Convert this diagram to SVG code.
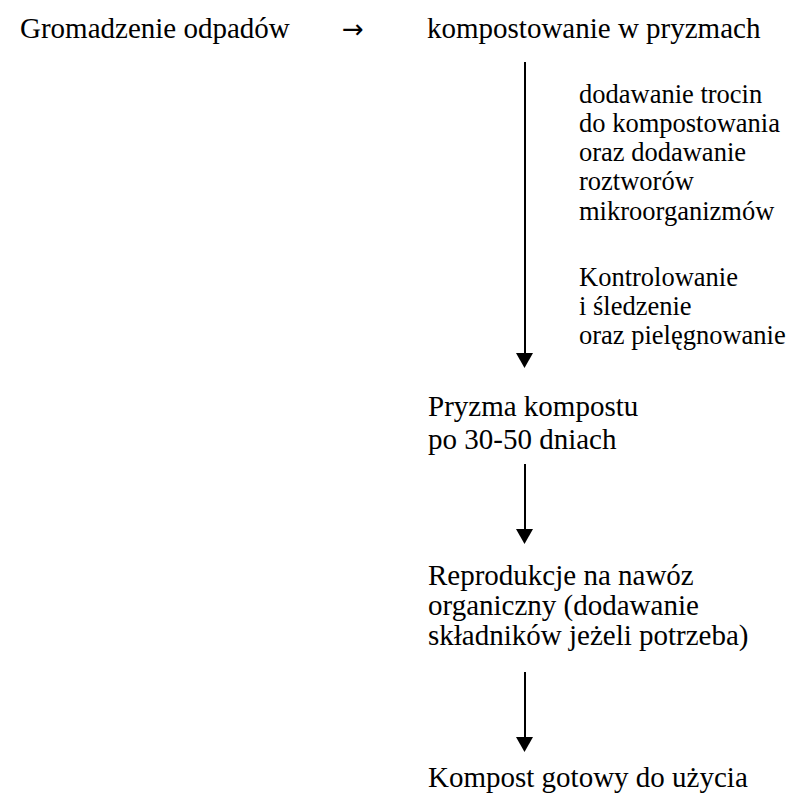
<svg xmlns="http://www.w3.org/2000/svg" width="791" height="793" viewBox="0 0 791 793">
<style>
.ln{stroke:#000;stroke-width:2}
.hd{fill:#000}
</style>
<rect width="791" height="793" fill="#fff"/>
<g id="n1"><text x="20" y="38" font-family="Liberation Serif, Times New Roman, serif" font-size="29" fill="#000">Gromadzenie odpadów</text></g>
<g id="n2"><text x="427" y="38" font-family="Liberation Serif, Times New Roman, serif" font-size="29" fill="#000">kompostowanie w pryzmach</text></g>
<g id="note1">
<text x="579" y="103" font-family="Liberation Serif, Times New Roman, serif" font-size="26.5" fill="#000">dodawanie trocin</text>
<text x="579" y="132" font-family="Liberation Serif, Times New Roman, serif" font-size="26.5" fill="#000">do kompostowania</text>
<text x="579" y="161" font-family="Liberation Serif, Times New Roman, serif" font-size="26.5" fill="#000">oraz dodawanie</text>
<text x="579" y="190" font-family="Liberation Serif, Times New Roman, serif" font-size="26.5" fill="#000">roztworów</text>
<text x="579" y="220" font-family="Liberation Serif, Times New Roman, serif" font-size="26.5" fill="#000">mikroorganizmów</text>
</g>
<g id="note2">
<text x="579" y="286" font-family="Liberation Serif, Times New Roman, serif" font-size="26.5" fill="#000">Kontrolowanie</text>
<text x="579" y="315" font-family="Liberation Serif, Times New Roman, serif" font-size="26.5" fill="#000">i śledzenie</text>
<text x="579" y="344" font-family="Liberation Serif, Times New Roman, serif" font-size="26.5" fill="#000">oraz pielęgnowanie</text>
</g>
<g id="n3">
<text x="428" y="416" font-family="Liberation Serif, Times New Roman, serif" font-size="29" fill="#000">Pryzma kompostu</text>
<text x="428" y="449" font-family="Liberation Serif, Times New Roman, serif" font-size="29" fill="#000">po 30-50 dniach</text>
</g>
<g id="n4">
<text x="428" y="585" font-family="Liberation Serif, Times New Roman, serif" font-size="29" fill="#000">Reprodukcje na nawóz</text>
<text x="428" y="615" font-family="Liberation Serif, Times New Roman, serif" font-size="29" fill="#000">organiczny (dodawanie</text>
<text x="428" y="645" font-family="Liberation Serif, Times New Roman, serif" font-size="29" fill="#000">składników jeżeli potrzeba)</text>
</g>
<g id="n5"><text x="428" y="787" font-family="Liberation Serif, Times New Roman, serif" font-size="29" fill="#000">Kompost gotowy do użycia</text></g>
<g id="connectors">
<text x="342" y="38" font-family="DejaVu Sans, sans-serif" font-size="26" fill="#000">→</text>
<line class="ln" x1="525" y1="62" x2="525" y2="354"/>
<polygon class="hd" points="516,353 533,353 524.5,368"/>
<line class="ln" x1="525" y1="464" x2="525" y2="530"/>
<polygon class="hd" points="516,529 533,529 524.5,544"/>
<line class="ln" x1="525" y1="672" x2="525" y2="738"/>
<polygon class="hd" points="516,737 533,737 524.5,752"/>
</g>
</svg>
